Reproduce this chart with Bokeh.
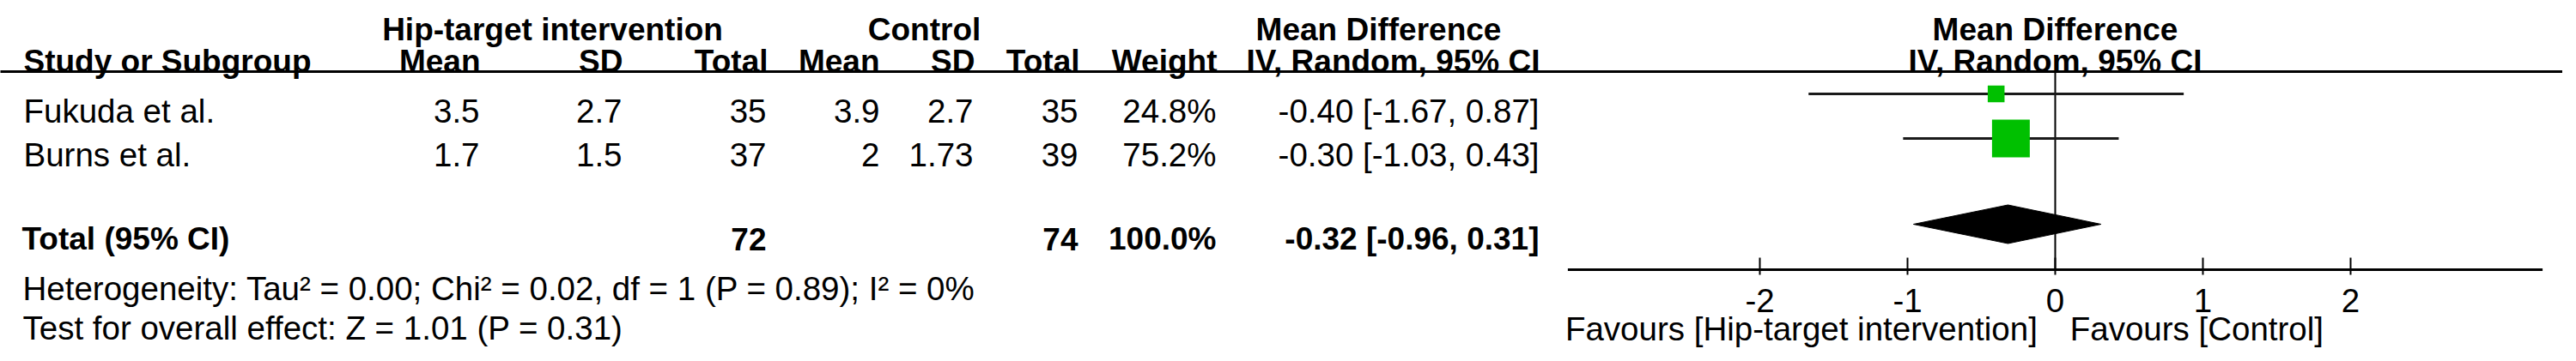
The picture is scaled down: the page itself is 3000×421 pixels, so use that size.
from bokeh.plotting import figure
from bokeh.models import Range1d
from bokeh.core.properties import value
from bokeh.embed import file_html
from bokeh.resources import INLINE

# ---------------- data ----------------
studies = ["Fukuda et al.", "Burns et al."]
exp_mean = [3.5, 1.7]
exp_sd = [2.7, 1.5]
exp_total = [35, 37]
ctl_mean = [3.9, 2]
ctl_sd = [2.7, 1.73]
ctl_total = [35, 39]
weights = [24.8, 75.2]
md = [-0.40, -0.30]
ci_low = [-1.67, -1.03]
ci_high = [0.87, 0.43]

total_label = "Total (95% CI)"
total_exp = 72
total_ctl = 74
total_weight = 100.0
pooled_md = -0.32
pooled_low = -0.96
pooled_high = 0.31

heterogeneity = "Heterogeneity: Tau\u00b2 = 0.00; Chi\u00b2 = 0.02, df = 1 (P = 0.89); I\u00b2 = 0%"
overall = "Test for overall effect: Z = 1.01 (P = 0.31)"

tick_values = [-2, -1, 0, 1, 2]
tick_labels = ["-2", "-1", "0", "1", "2"]
axis_limits = [-3.3, 3.3]
favours_left = "Favours [Hip-target intervention]"
favours_right = "Favours [Control]"

# ---------------- layout ----------------
W, H = 2984, 405
X0, Y0 = 8, 8            # page margin -> figure shows reference px 8..2992 / 8..413
ZERO_PX = 2401.0
PX_PER_UNIT = 172.0
FONT = value("Liberation Sans")
FS_BOLD = 37.0
FS_REG = 38.5

p = figure(width=W, height=H, output_backend="svg", toolbar_location=None, title=None,
           x_range=Range1d(X0, X0 + W), y_range=Range1d(Y0 + H, Y0),
           x_axis_location=None, y_axis_location=None, min_border=0)
p.extra_x_ranges = {"md": Range1d((X0 - ZERO_PX) / PX_PER_UNIT, (X0 + W - ZERO_PX) / PX_PER_UNIT)}
p.grid.visible = False
p.outline_line_color = None
p.background_fill_color = "white"
p.border_fill_color = "white"


def txt(x, y, t, align="left", bold=False, range_name="default"):
    fs = FS_BOLD if bold else FS_REG
    p.text(x=x, y=y, text=t, text_align=align, text_baseline="alphabetic",
           text_line_height=1.0,
           text_font=FONT, text_font_size=f"{fs}px",
           text_font_style="bold" if bold else "normal", text_color="#000000",
           x_range_name=range_name)


# header rows
H1, H2 = 42, 79
txt([651], [H1], ["Hip-target intervention"], "center", True)
txt([1084], [H1], ["Control"], "center", True)
txt([1613], [H1], ["Mean Difference"], "center", True)
txt([0], [H1], ["Mean Difference"], "center", True, "md")

col_right = [567, 733, 902, 1032, 1143, 1265, 1425]
col_names = ["Mean", "SD", "Total", "Mean", "SD", "Total", "Weight"]
txt([35], [H2], ["Study or Subgroup"], "left", True)
txt(col_right, [H2] * len(col_right), col_names, "right", True)
txt([1630], [H2], ["IV, Random, 95% CI"], "center", True)
txt([0], [H2], ["IV, Random, 95% CI"], "center", True, "md")

# header rule
p.segment(x0=[0], y0=[91], x1=[3000], y1=[91], line_color="black", line_width=3)

# study rows
row_base = [137, 188]
row_mid = [117, 169]
n = len(studies)
txt([35] * n, row_base, studies, "left")
cols = [
    [f"{v:g}" for v in exp_mean],
    [f"{v:g}" for v in exp_sd],
    [str(v) for v in exp_total],
    [f"{v:g}" for v in ctl_mean],
    [f"{v:g}" for v in ctl_sd],
    [str(v) for v in ctl_total],
    [f"{v:.1f}%" for v in weights],
]
val_right = [566, 732, 900, 1032, 1141, 1263, 1424]
for xr, vals in zip(val_right, cols):
    txt([xr] * n, row_base, vals, "right")
ci_text = [f"{m:.2f} [{l:.2f}, {h:.2f}]" for m, l, h in zip(md, ci_low, ci_high)]
txt([1800] * n, row_base, ci_text, "right")

# total row
TB = 286
txt([33], [TB], [total_label], "left", True)
txt([900], [TB], [str(total_exp)], "right", True)
txt([1263], [TB], [str(total_ctl)], "right", True)
txt([1424], [TB], [f"{total_weight:.1f}%"], "right", True)
txt([1800], [TB], [f"{pooled_md:.2f} [{pooled_low:.2f}, {pooled_high:.2f}]"], "right", True)

txt([34], [344], [heterogeneity], "left")
txt([34], [390], [overall], "left")

# ---------------- forest plot (md scale) ----------------
AXIS_Y = 322
# zero line
p.segment(x0=[0], y0=[91], x1=[0], y1=[AXIS_Y], line_color="black", line_width=2, x_range_name="md")
# confidence intervals
p.segment(x0=ci_low, y0=row_mid, x1=ci_high, y1=row_mid, line_color="#1a1a1a", line_width=3, x_range_name="md")
# weight squares
sizes = [1.878 * w ** 0.73 for w in weights]
p.rect(x=md, y=row_mid, width=sizes, height=sizes, width_units="screen", height_units="screen",
       fill_color="#00C000", line_color=None, x_range_name="md")
# pooled diamond
DY, DH = 269, 22.5
p.patch(x=[pooled_low, pooled_md, pooled_high, pooled_md], y=[DY, DY - DH, DY, DY + DH],
        fill_color="black", line_color="black", line_width=1, x_range_name="md")
# axis
p.segment(x0=[axis_limits[0]], y0=[AXIS_Y], x1=[axis_limits[1]], y1=[AXIS_Y],
          line_color="black", line_width=3, x_range_name="md")
p.segment(x0=tick_values, y0=[AXIS_Y - 14] * len(tick_values), x1=tick_values,
          y1=[AXIS_Y + 6] * len(tick_values), line_color="black", line_width=2, x_range_name="md")
txt(tick_values, [358] * len(tick_values), tick_labels, "center", False, "md")
txt([-0.12], [391], [favours_left], "right", False, "md")
txt([0.1], [391], [favours_right], "left", False, "md")

open("out.html", "w").write(file_html(p, INLINE))
